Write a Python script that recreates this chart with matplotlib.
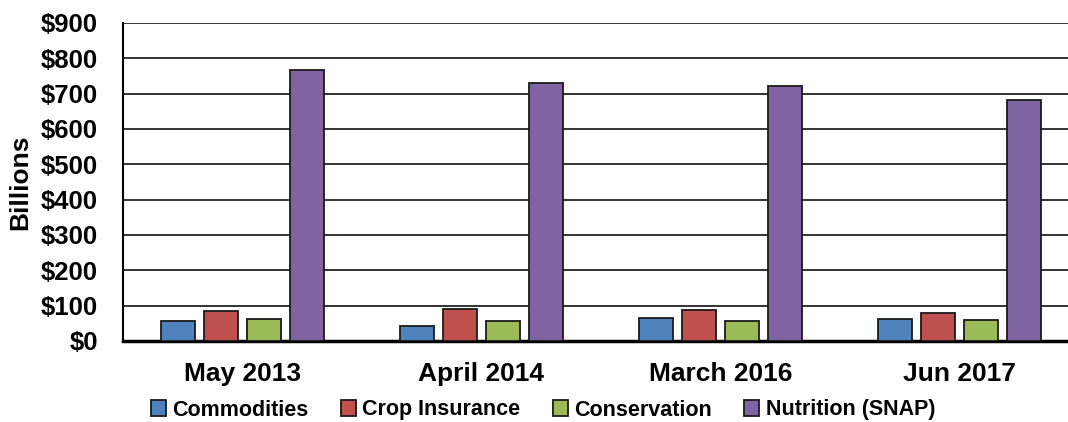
import numpy as np
import matplotlib
matplotlib.use("Agg")
import matplotlib.pyplot as plt
from matplotlib.ticker import FuncFormatter

# Data (billions of dollars)
periods = ["May 2013", "April 2014", "March 2016", "Jun 2017"]
series_names = ["Commodities", "Crop Insurance", "Conservation", "Nutrition (SNAP)"]
commodities = [57, 42, 65, 61]
crop_insurance = [84, 90, 88, 78]
conservation = [62, 56, 58, 59]
nutrition = [766, 730, 723, 681]
colors = ["#4F81BD", "#C0504D", "#9BBB59", "#8064A2"]

plt.rcParams["font.family"] = ["Liberation Sans", "DejaVu Sans"]
plt.rcParams["font.weight"] = "bold"

fig = plt.figure(figsize=(10.68, 4.22), dpi=100)
W, H = 1068, 422
ax = fig.add_axes([123 / W, 81 / H, 956 / W, 318 / H])

x = np.arange(len(periods))
step = 0.18
width = 0.142
all_series = [commodities, crop_insurance, conservation, nutrition]
for i, (name, vals, c) in enumerate(zip(series_names, all_series, colors)):
    ax.bar(x + (i - 1.5) * step, vals, width, color=c, edgecolor="#1a1a1a",
           linewidth=1.3, label=name, zorder=3)

ax.set_xlim(-0.5, 3.5)
ax.set_ylim(0, 900)
ax.set_yticks(np.arange(0, 901, 100))
ax.yaxis.set_major_formatter(FuncFormatter(lambda v, p: f"${v:.0f}"))
ax.grid(axis="y", color="#333333", linewidth=1.4, zorder=0)
ax.set_axisbelow(True)

ax.set_xticks(x)
ax.set_xticklabels(periods, fontsize=19, fontweight="bold")
ax.tick_params(axis="y", labelsize=18.5, length=0, pad=18)
ax.tick_params(axis="x", length=0, pad=15)
for lab in ax.get_yticklabels():
    lab.set_fontweight("bold")

ax.set_ylabel("Billions", fontsize=19, fontweight="bold", labelpad=6)

for s in ["top", "right"]:
    ax.spines[s].set_visible(False)
ax.spines["left"].set_linewidth(1.5)
ax.spines["left"].set_color("black")
ax.spines["bottom"].set_linewidth(2.5)
ax.spines["bottom"].set_color("black")

handles, labels = ax.get_legend_handles_labels()
fig.legend(handles, labels, loc="center", bbox_to_anchor=(543 / W, 1 - 410 / H),
           ncol=4, frameon=False, fontsize=15.5, handlelength=0.7, handleheight=0.7,
           handletextpad=0.3, columnspacing=1.5, borderaxespad=0)

fig.savefig("out.png", dpi=100)
